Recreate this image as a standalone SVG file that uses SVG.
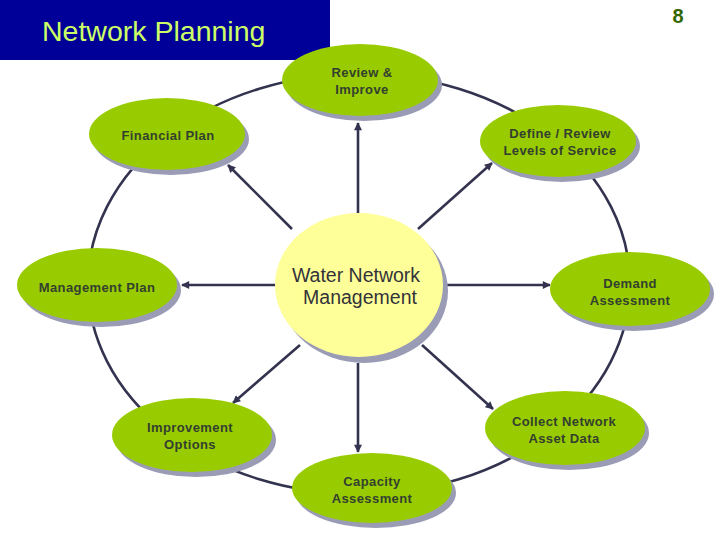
<svg xmlns="http://www.w3.org/2000/svg" width="720" height="540" viewBox="0 0 720 540">
<defs>
<style>
.ring{fill:none;stroke:#33334f;stroke-width:2.6}
.spoke{fill:none;stroke:#33334f;stroke-width:2.6;marker-end:url(#ah)}
.node{fill:#99cc00}
.shadow{fill:#9a9cb6}
.lbl{font-family:"Liberation Sans",Arial,sans-serif;font-size:13px;font-weight:bold;fill:#33402f;text-anchor:middle;letter-spacing:0.4px}
.center{fill:#ffff99}
.clbl{font-family:"Liberation Sans",Arial,sans-serif;font-size:19.5px;fill:#33333a;text-anchor:middle}
</style>
<marker id="ah" viewBox="0 0 10 10" refX="9" refY="5" markerWidth="9" markerHeight="8" markerUnits="userSpaceOnUse" orient="auto">
<path d="M0,0 L10,5 L0,10 Z" fill="#33334f"/>
</marker>
</defs>
<rect width="720" height="540" fill="#ffffff"/>
<g id="title">
<rect x="0" y="0" width="330" height="60" fill="#000099"/>
<text x="42" y="41" font-family="'Liberation Sans',Arial,sans-serif" font-size="28.5" fill="#ccff66">Network Planning</text>
</g>
<g id="page-number">
<text x="678" y="23" font-family="'Liberation Sans',Arial,sans-serif" font-size="20" font-weight="bold" fill="#336600" text-anchor="middle">8</text>
</g>
<g id="connectors">
<ellipse class="ring" cx="359" cy="284" rx="271" ry="210"/>
<line class="spoke" x1="358" y1="213" x2="358" y2="123"/>
<line class="spoke" x1="292" y1="229" x2="228" y2="165"/>
<line class="spoke" x1="418" y1="229" x2="492" y2="163"/>
<line class="spoke" x1="275" y1="285" x2="182" y2="285"/>
<line class="spoke" x1="443" y1="285" x2="550" y2="285"/>
<line class="spoke" x1="422" y1="345" x2="493" y2="409"/>
<line class="spoke" x1="358" y1="363" x2="358" y2="452"/>
<line class="spoke" x1="300" y1="345" x2="233" y2="403"/>
</g>
<g id="review-improve">
<ellipse class="shadow" cx="364" cy="85" rx="78" ry="36"/>
<ellipse class="node" cx="360" cy="80" rx="78" ry="36"/>
<text class="lbl" x="362" y="77">Review &amp;</text>
<text class="lbl" x="362" y="94">Improve</text>
</g>
<g id="financial-plan">
<ellipse class="shadow" cx="171" cy="139" rx="78" ry="36"/>
<ellipse class="node" cx="167" cy="134" rx="78" ry="36"/>
<text class="lbl" x="168" y="140">Financial Plan</text>
</g>
<g id="define-review">
<ellipse class="shadow" cx="562" cy="146" rx="78" ry="36"/>
<ellipse class="node" cx="558" cy="141" rx="78" ry="36"/>
<text class="lbl" x="560" y="138">Define / Review</text>
<text class="lbl" x="560" y="155">Levels of Service</text>
</g>
<g id="management-plan">
<ellipse class="shadow" cx="101" cy="290" rx="80" ry="37"/>
<ellipse class="node" cx="97" cy="285" rx="80" ry="37"/>
<text class="lbl" x="97" y="292">Management Plan</text>
</g>
<g id="water-network-management">
<ellipse class="shadow" cx="364" cy="291" rx="84" ry="72"/>
<ellipse class="center" cx="359" cy="285" rx="84" ry="72"/>
<text class="clbl" x="356" y="282">Water Network</text>
<text class="clbl" x="360" y="304">Management</text>
</g>
<g id="demand-assessment">
<ellipse class="shadow" cx="634" cy="294" rx="80" ry="37"/>
<ellipse class="node" cx="630" cy="289" rx="80" ry="37"/>
<text class="lbl" x="630" y="288">Demand</text>
<text class="lbl" x="630" y="305">Assessment</text>
</g>
<g id="collect-network-asset-data">
<ellipse class="shadow" cx="569" cy="433" rx="80" ry="37"/>
<ellipse class="node" cx="565" cy="428" rx="80" ry="37"/>
<text class="lbl" x="564" y="426">Collect Network</text>
<text class="lbl" x="564" y="443">Asset Data</text>
</g>
<g id="improvement-options">
<ellipse class="shadow" cx="196" cy="440" rx="80" ry="37"/>
<ellipse class="node" cx="192" cy="435" rx="80" ry="37"/>
<text class="lbl" x="190" y="432">Improvement</text>
<text class="lbl" x="190" y="449">Options</text>
</g>
<g id="capacity-assessment">
<ellipse class="shadow" cx="376" cy="493" rx="80" ry="35"/>
<ellipse class="node" cx="372" cy="488" rx="80" ry="35"/>
<text class="lbl" x="372" y="486">Capacity</text>
<text class="lbl" x="372" y="503">Assessment</text>
</g>
</svg>
